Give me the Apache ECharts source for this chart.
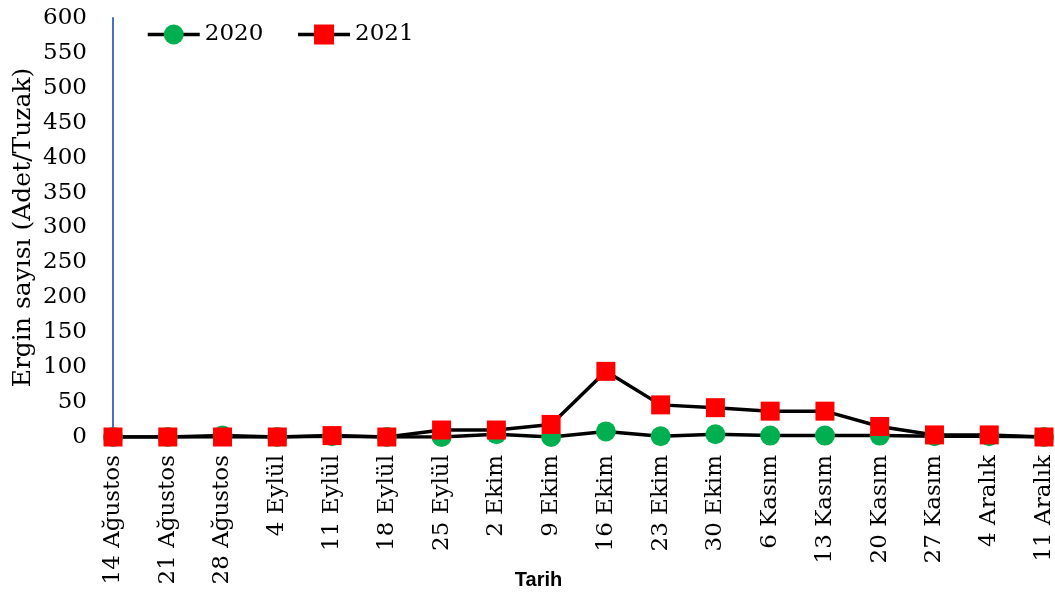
<!DOCTYPE html>
<html>
<head>
<meta charset="utf-8">
<script src="https://cdn.jsdelivr.net/npm/echarts@6/dist/echarts.min.js"></script>
<style>
  html, body { margin: 0; padding: 0; background: #fff; }
  #chart { width: 1055px; height: 593px; }
</style>
</head>
<body>
<div id="chart"></div>
<script>
// Sampling dates (weekly)
const dates = ['14 Ağustos', '21 Ağustos', '28 Ağustos', '4 Eylül', '11 Eylül', '18 Eylül',
  '25 Eylül', '2 Ekim', '9 Ekim', '16 Ekim', '23 Ekim', '30 Ekim', '6 Kasım', '13 Kasım',
  '20 Kasım', '27 Kasım', '4 Aralık', '11 Aralık'];

// Adult counts per trap
const counts2020 = [0, 0, 2, 0, 1, 0, 0, 4, 0, 8, 1, 4, 2, 2, 2, 1, 1, 0];
const counts2021 = [0, 0, 0, 0, 2, 0, 10, 10, 18, 94, 46, 42, 37, 37, 15, 3, 3, 0];

const serif = 'DejaVu Serif';

const chart = echarts.init(document.getElementById('chart'));
chart.setOption({
  animation: false,
  backgroundColor: '#ffffff',
  grid: { left: 113, right: 11, top: 18, bottom: 156, containLabel: false, outerBoundsMode: 'none' },
  legend: {
    left: 141, top: 18,
    itemWidth: 52, itemHeight: 25, itemGap: 33,
    lineStyle: { width: 3.5 },
    textStyle: { fontFamily: serif, fontSize: 23, color: '#000' },
    data: ['2020', '2021']
  },
  xAxis: {
    type: 'category',
    data: dates,
    boundaryGap: false,
    axisLine: { show: false },
    axisTick: { show: false },
    axisLabel: {
      rotate: 90, margin: 18, interval: 0,
      fontFamily: serif, fontSize: 23, color: '#000'
    },
    name: 'Tarih',
    nameLocation: 'middle',
    nameGap: 133,
    nameMoveOverlap: false,
    nameTextStyle: {
      fontFamily: 'Liberation Sans', fontWeight: 'bold', fontSize: 20, color: '#000',
      padding: [0, 80, 0, 0]
    }
  },
  yAxis: {
    type: 'value',
    min: 0, max: 600, interval: 50,
    splitLine: { show: false },
    axisLine: { show: true, lineStyle: { color: '#4472C4', width: 2 } },
    axisTick: { show: false },
    axisLabel: { margin: 26, fontFamily: serif, fontSize: 23, color: '#000' },
    name: 'Ergin sayısı (Adet/Tuzak)',
    nameLocation: 'middle',
    nameGap: 77,
    nameMoveOverlap: false,
    nameTextStyle: { fontFamily: serif, fontSize: 25, color: '#000' }
  },
  series: [
    {
      name: '2020', type: 'line', data: counts2020,
      symbol: 'circle', symbolSize: 20,
      lineStyle: { color: '#000', width: 3.5 },
      itemStyle: { color: '#00B050' }
    },
    {
      name: '2021', type: 'line', data: counts2021,
      symbol: 'rect', symbolSize: 19,
      lineStyle: { color: '#000', width: 3.5 },
      itemStyle: { color: '#FF0000' }
    }
  ]
});
</script>
</body>
</html>
